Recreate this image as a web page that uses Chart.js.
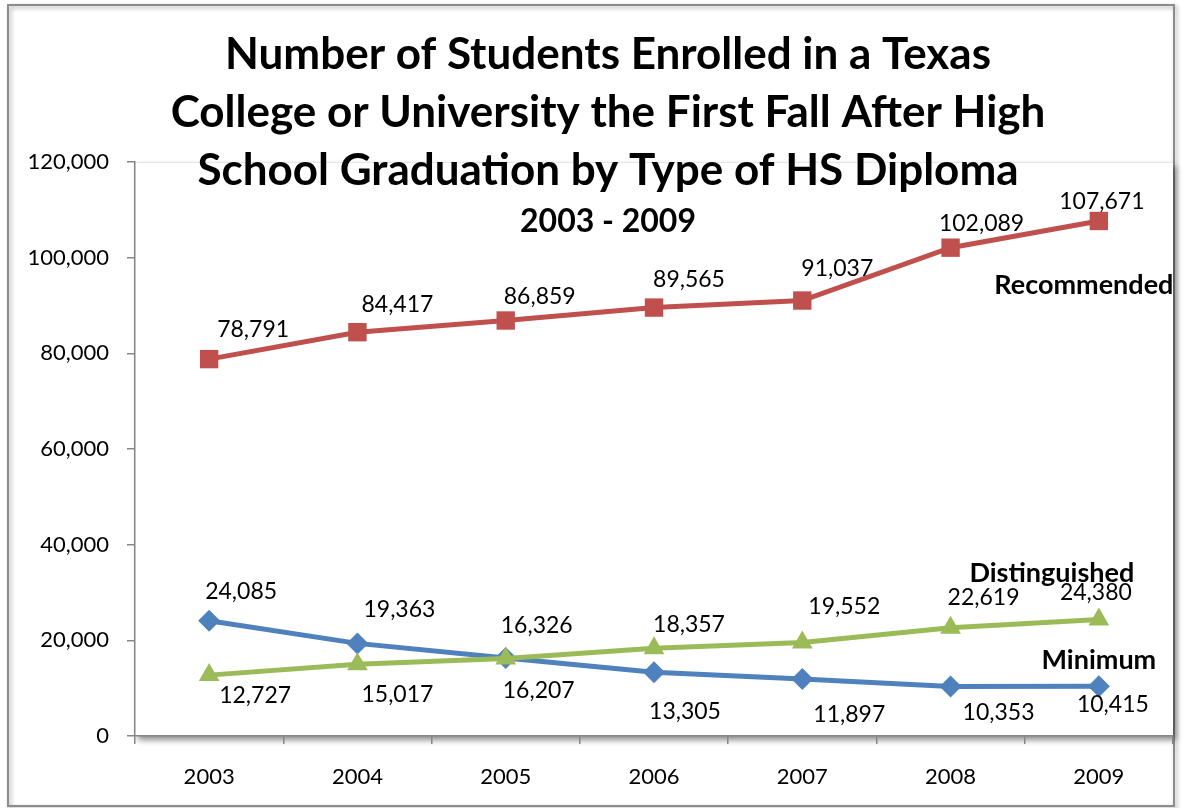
<!DOCTYPE html>
<html lang="en">
<head>
<meta charset="UTF-8">
<title>Texas College Enrollment by HS Diploma</title>
<script src="https://cdn.jsdelivr.net/npm/chart.js"></script>
<style>
    body { margin: 0; background: #fff; }
    #grafico { display: block; }
</style>
</head>
<body>
<canvas id="grafico" width="1189" height="808"></canvas>
<script>
    // dados
    var anos = ['2003', '2004', '2005', '2006', '2007', '2008', '2009'];
    var recommended = [78791, 84417, 86859, 89565, 91037, 102089, 107671];
    var distinguished = [12727, 15017, 16207, 18357, 19552, 22619, 24380];
    var minimum = [24085, 19363, 16326, 13305, 11897, 10353, 10415];
    var nomesSeries = ['Recommended', 'Distinguished', 'Minimum'];
    var tituloLinhas = [
        'Number of Students Enrolled in a Texas',
        'College or University the First Fall After High',
        'School Graduation by Type of HS Diploma'
    ];
    var subtitulo = '2003 - 2009';
    var yMin = 0, yMax = 120000, yPasso = 20000;

    var fonte = 'Lato, "Open Sans", sans-serif';
    var corTexto = '#000';
    var corEixo = '#868686';

    // deslocamento dos rotulos em relacao ao ponto (estilo, nao dados)
    var offsetsRotulo = [
        [[44, -30], [40, -28], [34, -24], [35, -28], [35, -32], [31, -24], [3, -19]],
        [[46, 20], [40, 30], [33, 32], [35, -24], [42, -36], [33, -30], [-3, -27]],
        [[32, -29], [42, -34], [31, -32], [31, 39], [47, 35], [48, 26], [14, 18]]
    ];
    var offsetsNome = [[-15, 64], [-47, -46], [0, -26]];

    function formatar(v) {
        return v.toLocaleString('en-US');
    }

    var pluginFundo = {
        id: 'fundo',
        beforeDraw(chart) {
            var ctx = chart.ctx;
            var a = chart.chartArea;
            ctx.save();
            ctx.fillStyle = '#fff';
            ctx.fillRect(0, 0, chart.width, chart.height);
            // moldura externa com sombra
            ctx.shadowColor = 'rgba(0,0,0,0.35)';
            ctx.shadowBlur = 4;
            ctx.shadowOffsetX = 2;
            ctx.shadowOffsetY = 2;
            ctx.strokeStyle = '#8c8c8c';
            ctx.lineWidth = 2;
            ctx.strokeRect(8, 5, 1166, 801);
            // area do grafico com sombra
            ctx.shadowColor = 'rgba(0,0,0,0.45)';
            ctx.shadowBlur = 6;
            ctx.shadowOffsetX = 3;
            ctx.shadowOffsetY = 4;
            ctx.fillStyle = '#fff';
            ctx.fillRect(a.left, a.top, a.right - a.left, a.bottom - a.top);
            ctx.restore();
            ctx.save();
            ctx.strokeStyle = '#e6e6e6';
            ctx.lineWidth = 1;
            ctx.beginPath();
            ctx.moveTo(a.left, a.top + 0.5);
            ctx.lineTo(a.right, a.top + 0.5);
            ctx.stroke();
            ctx.restore();
        }
    };

    var pluginRotulos = {
        id: 'rotulos',
        afterDatasetsDraw(chart) {
            var ctx = chart.ctx;
            ctx.save();
            ctx.textAlign = 'center';
            ctx.textBaseline = 'middle';
            chart.data.datasets.forEach((ds, i) => {
                var meta = chart.getDatasetMeta(i);
                ctx.fillStyle = corTexto;
                ctx.font = '23px ' + fonte;
                meta.data.forEach((p, j) => {
                    var off = offsetsRotulo[i][j];
                    ctx.fillText(formatar(ds.data[j]), p.x + off[0], p.y + off[1]);
                });
            });
            ctx.restore();
        },
        afterDraw(chart) {
            var ctx = chart.ctx;
            ctx.save();
            ctx.textAlign = 'center';
            ctx.textBaseline = 'middle';
            ctx.fillStyle = corTexto;
            // nomes das series ao lado do ultimo ponto
            ctx.font = 'bold 27px ' + fonte;
            chart.data.datasets.forEach((ds, i) => {
                var meta = chart.getDatasetMeta(i);
                var ultimo = meta.data[meta.data.length - 1];
                ctx.fillText(nomesSeries[i], ultimo.x + offsetsNome[i][0], ultimo.y + offsetsNome[i][1]);
            });
            ctx.font = 'bold 44px ' + fonte;
            tituloLinhas.forEach((linha, i) => {
                ctx.fillText(linha, 608, 55 + i * 58);
            });
            ctx.font = 'bold 32px ' + fonte;
            ctx.fillText(subtitulo, 608, 222);
            ctx.restore();
        }
    };

    const ctx = document.getElementById('grafico');

    var grafico = new Chart(ctx, {
        type: 'line',
        data: {
            labels: anos,
            datasets: [{
                label: nomesSeries[0],
                data: recommended,
                borderColor: '#C0504D',
                backgroundColor: '#C0504D',
                borderWidth: 5,
                pointStyle: 'rect',
                pointRadius: 13,
                pointBorderWidth: 0,
                tension: 0
            }, {
                label: nomesSeries[1],
                data: distinguished,
                borderColor: '#9BBB59',
                backgroundColor: '#9BBB59',
                borderWidth: 5,
                pointStyle: 'triangle',
                pointRadius: 12,
                pointBorderWidth: 0,
                tension: 0
            }, {
                label: nomesSeries[2],
                data: minimum,
                borderColor: '#4F81BD',
                backgroundColor: '#4F81BD',
                borderWidth: 5,
                pointStyle: 'rectRot',
                pointRadius: 11,
                pointBorderWidth: 0,
                tension: 0
            }]
        },
        options: {
            responsive: false,
            animation: false,
            layout: { padding: { left: 0, top: 162, right: 16, bottom: 0 } },
            plugins: {
                legend: { display: false },
                title: { display: false },
                tooltip: { enabled: false }
            },
            scales: {
                x: {
                    offset: true,
                    grid: {
                        offset: true,
                        drawOnChartArea: false,
                        drawTicks: true,
                        tickLength: 8,
                        color: corEixo,
                        lineWidth: 1.5
                    },
                    border: { display: true, color: corEixo, width: 1.5 },
                    ticks: {
                        color: corTexto,
                        font: { family: fonte, size: 22 },
                        padding: 20
                    },
                    afterFit(scale) { scale.height = 72; }
                },
                y: {
                    min: yMin,
                    max: yMax,
                    grid: {
                        drawOnChartArea: false,
                        drawTicks: true,
                        tickLength: 8,
                        color: corEixo,
                        lineWidth: 1.5
                    },
                    border: { display: true, color: corEixo, width: 1.5 },
                    ticks: {
                        stepSize: yPasso,
                        color: corTexto,
                        font: { family: fonte, size: 22 },
                        padding: 18,
                        callback: (v) => formatar(v)
                    },
                    afterFit(scale) { scale.width = 135; }
                }
            }
        },
        plugins: [pluginFundo, pluginRotulos]
    });
</script>
</body>
</html>
